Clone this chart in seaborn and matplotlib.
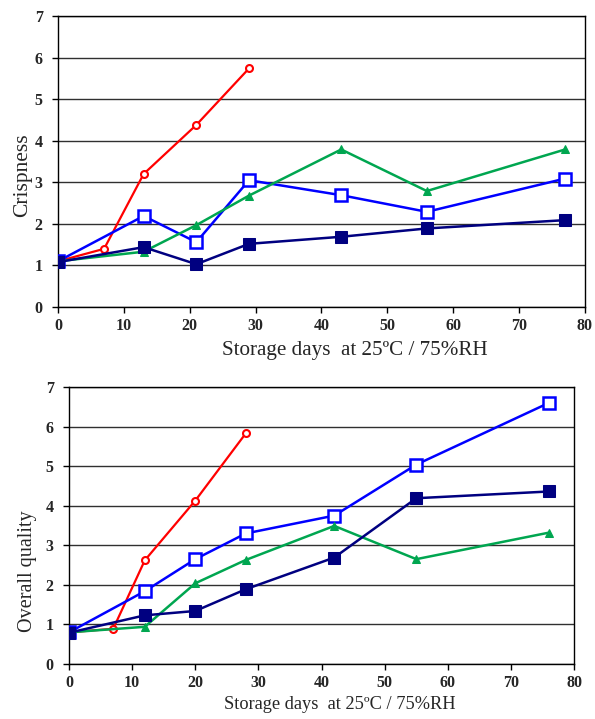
import matplotlib
matplotlib.use('Agg')
import matplotlib.pyplot as plt
import pandas as pd
import seaborn as sns

# --- Crispness (top panel) ---
crisp_days_red = [0, 7, 13, 21, 29]
crisp_red = [1.1, 1.4, 3.2, 4.38, 5.74]
crisp_days = [0, 13, 21, 29, 43, 56, 77]
crisp_blue = [1.1, 2.19, 1.56, 3.05, 2.69, 2.29, 3.09]
crisp_green = [1.1, 1.33, 1.97, 2.68, 3.79, 2.79, 3.79]
crisp_navy = [1.08, 1.44, 1.03, 1.52, 1.69, 1.89, 2.09]

# --- Overall quality (bottom panel) ---
qual_days_red = [0, 7, 12, 20, 28]
qual_red = [0.8, 0.89, 2.62, 4.13, 5.83]
qual_days = [0, 12, 20, 28, 42, 55, 76]
qual_blue = [0.8, 1.84, 2.65, 3.3, 3.75, 5.04, 6.6]
qual_green = [0.8, 0.94, 2.04, 2.63, 3.49, 2.65, 3.32]
qual_navy = [0.79, 1.23, 1.34, 1.89, 2.69, 4.19, 4.36]

x_ticks = [0, 10, 20, 30, 40, 50, 60, 70, 80]
y_ticks = [0, 1, 2, 3, 4, 5, 6, 7]
x_label = 'Storage days  at 25ºC / 75%RH'

RED = '#FF0000'
BLUE = '#0000FF'
GREEN = '#00A650'
NAVY = '#000080'

sns.set_style('white')
plt.rcParams['font.family'] = ['Liberation Serif', 'DejaVu Serif']

fig = plt.figure(figsize=(5.95, 7.19), dpi=100)
ax1 = fig.add_axes([0.0975, 0.573, 0.8855, 0.4047])
ax2 = fig.add_axes([0.116, 0.0765, 0.849, 0.3852])


def draw_panel(ax, days_red, red, days, blue, green, navy):
    sns.lineplot(x=days_red, y=red, ax=ax, color=RED, lw=1.6, marker='o',
                 markersize=5, markerfacecolor='white', markeredgecolor=RED,
                 markeredgewidth=1.5, zorder=3)
    sns.lineplot(x=days, y=blue, ax=ax, color=BLUE, lw=1.8, marker='s',
                 markersize=9, markerfacecolor='white', markeredgecolor=BLUE,
                 markeredgewidth=1.8, zorder=3)
    sns.lineplot(x=days, y=green, ax=ax, color=GREEN, lw=1.8, marker='^',
                 markersize=6, markerfacecolor=GREEN, markeredgecolor=GREEN,
                 zorder=3)
    sns.lineplot(x=days, y=navy, ax=ax, color=NAVY, lw=1.8, marker='s',
                 markersize=8, markerfacecolor=NAVY, markeredgecolor=NAVY,
                 zorder=4)
    ax.set_xlim(0, 80)
    ax.set_ylim(0, 7)
    ax.set_xticks(x_ticks)
    ax.set_yticks(y_ticks)
    ax.grid(axis='y', color='#303030', lw=1.0)
    ax.grid(axis='x', visible=False)
    for s in ax.spines.values():
        s.set_color('black')
        s.set_linewidth(1.0)
    ax.tick_params(axis='both', direction='out', length=4, width=1,
                   color='black', labelsize=11.5, bottom=True, left=True)
    ax.tick_params(axis='x', pad=4)
    ax.tick_params(axis='y', pad=7)
    for lab in ax.get_xticklabels() + ax.get_yticklabels():
        lab.set_fontweight('bold')


draw_panel(ax1, crisp_days_red, crisp_red, crisp_days,
           crisp_blue, crisp_green, crisp_navy)
ax1.set_ylabel('Crispness', fontsize=15.5)
ax1.yaxis.set_label_coords(-0.049, 0.454)
ax1.set_xlabel(x_label, fontsize=15.2)
ax1.xaxis.set_label_coords(0.5636, -0.118)

draw_panel(ax2, qual_days_red, qual_red, qual_days,
           qual_blue, qual_green, qual_navy)
ax2.set_ylabel('Overall quality', fontsize=14.5)
ax2.yaxis.set_label_coords(-0.063, 0.336)
ax2.set_xlabel(x_label, fontsize=13.2)
ax2.xaxis.set_label_coords(0.5356, -0.115)

fig.savefig('out.png', dpi=100)
